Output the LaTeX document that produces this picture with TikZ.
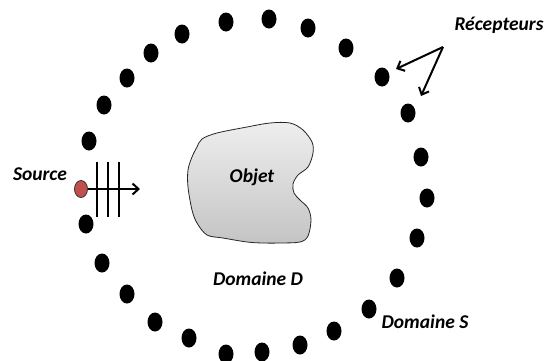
\documentclass[tikz,border=0pt]{standalone}
\usepackage{fontspec}
\setmainfont{Carlito}
\usetikzlibrary{shapes.geometric,arrows.meta}
\definecolor{srcred}{HTML}{C0504D}
\definecolor{objtop}{HTML}{EEEEEE}
\definecolor{objbot}{HTML}{C4C4C4}
\tikzset{
  dot/.style={ellipse,fill=black,minimum width=15pt,minimum height=19pt,inner sep=0pt},
  lbl/.style={font=\fontsize{19.5}{21}\selectfont\bfseries\itshape,inner sep=0pt},
  thickarrow/.style={line width=2pt,-{Straight Barb[length=6pt,width=11pt,line width=2pt]}},
  bar/.style={line width=2.8pt}
}
\begin{document}
\begin{tikzpicture}[x=1pt,y=-1pt]
\useasboundingbox (0,0) rectangle (546,360);
% receptor dots
\foreach \x/\y [count=\i] in {226/22,269/19,308/28,346/48,382/77,408/113,421/157,427/198,417/238,397/278,369/309,334/331,300/345,262/352,226/354,189/338,155/322,127/294,102/263,86/224,89/141,104/105,127/78,151/53,182/34}
  \node[dot] (d\i) at (\x,\y) {};
% object
\path[draw=black!85,line width=0.8pt,top color=objtop,bottom color=objbot]
  plot[smooth cycle,tension=0.55] coordinates {
  (202,139) (217,133) (247,127) (270,123) (290,123) (303,130) (312,142) (313,153)
  (308,167) (298,175) (293,184) (294,193) (300,200) (308,208) (311,220) (308,236)
  (300,242) (280,243) (263,243) (247,242) (223,238) (207,235) (197,223) (192,210)
  (188,187) (188,170) (192,157) (197,147)};
\node[lbl] (obj) at (252,177) {Objet};
% labels
\node[lbl] (domd) at (258,279) {Domaine D};
\node[lbl] (doms) at (425,322) {Domaine S};
\node[lbl] (rec) at (499,25) {Récepteurs};
\node[lbl] (src) at (40,174) {Source};
% source
\coordinate (wend) at (140,189);
\draw[bar] (97,162) -- (97,217);
\draw[bar] (108,162) -- (108,217);
\draw[bar] (119,162) -- (119,217);
\node[ellipse,draw=black!80,line width=0.8pt,fill=srcred,minimum width=13pt,minimum height=17pt,inner sep=0pt] (srcdot) at (81,189) {};
\draw[thickarrow] (srcdot.east) -- (wend);
% receptor arrows
\coordinate (rc) at (443,47);
\coordinate (t1) at (396,69);
\coordinate (t2) at (421,96);
\draw[thickarrow] (rc) -- (t1);
\draw[thickarrow] (rc) -- (t2);
\end{tikzpicture}
\end{document}
